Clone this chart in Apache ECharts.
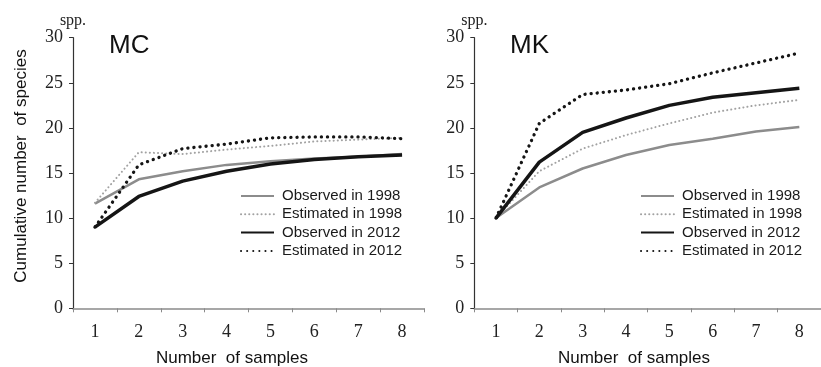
<!DOCTYPE html>
<html>
  <head>
    <meta charset="utf-8" />
    <title>Species accumulation MC / MK</title>
    <script src="https://cdn.jsdelivr.net/npm/echarts@6/dist/echarts.min.js"></script>
  </head>
  <body style="margin:0">
    <div id="container" style="width: 821px;height: 367px;"></div>

    <script type="text/javascript">
    // sample numbers on the x axis
    var samples = ['1', '2', '3', '4', '5', '6', '7', '8'];
    var seriesNames = ['Observed in 1998', 'Estimated in 1998', 'Observed in 2012', 'Estimated in 2012'];

    // MC panel
    var mcObs1998 = [11.6, 14.3, 15.2, 15.9, 16.3, 16.6, 16.8, 17.1];
    var mcEst1998 = [11.7, 17.3, 17.1, 17.6, 18.0, 18.5, 18.7, 18.9];
    var mcObs2012 = [9.0, 12.4, 14.1, 15.2, 16.0, 16.5, 16.8, 17.0];
    var mcEst2012 = [9.0, 15.9, 17.7, 18.2, 18.9, 19.0, 19.0, 18.8];

    // MK panel
    var mkObs1998 = [10.0, 13.4, 15.5, 17.0, 18.1, 18.8, 19.6, 20.1];
    var mkEst1998 = [10.0, 15.2, 17.7, 19.2, 20.5, 21.7, 22.5, 23.1];
    var mkObs2012 = [10.0, 16.2, 19.5, 21.1, 22.5, 23.4, 23.9, 24.4];
    var mkEst2012 = [10.0, 20.5, 23.7, 24.2, 24.9, 26.1, 27.2, 28.3];

    var yTicks = { min: 0, max: 30, interval: 5 };

    // line looks, same order as seriesNames
    var styles = [
        { color: '#8c8c8c', width: 2.5, type: 'solid', cap: 'butt' },
        { color: '#a2a2a2', width: 2, type: [0.1, 4], cap: 'round' },
        { color: '#151515', width: 3.5, type: 'solid', cap: 'butt' },
        { color: '#151515', width: 3.3, type: [0.1, 6], cap: 'round' }
    ];

    var serif = '"Liberation Serif", "Times New Roman", serif';
    var sans = '"Liberation Sans", Arial, sans-serif';

    function makeSeries(values, idx) {
        var out = [];
        for (var i = 0; i < values.length; i++) {
            out.push({
                name: seriesNames[i],
                type: 'line',
                xAxisIndex: idx,
                yAxisIndex: idx,
                symbol: 'none',
                data: values[i],
                lineStyle: {
                    color: styles[i].color,
                    width: styles[i].width,
                    type: styles[i].type,
                    cap: styles[i].cap
                },
                itemStyle: { color: styles[i].color }
            });
        }
        return out;
    }

    function makeX(idx) {
        return {
            type: 'category',
            gridIndex: idx,
            data: samples,
            boundaryGap: true,
            axisLine: { lineStyle: { color: '#8a8a8a', width: 1.5 } },
            axisTick: { show: true, length: 4, interval: 0, lineStyle: { color: '#8a8a8a' } },
            axisLabel: { margin: 15, color: '#222', fontSize: 18, fontFamily: serif }
        };
    }

    function makeY(idx) {
        return {
            type: 'value',
            gridIndex: idx,
            min: yTicks.min,
            max: yTicks.max,
            interval: yTicks.interval,
            name: 'spp.',
            nameLocation: 'end',
            nameGap: 5,
            nameTextStyle: { color: '#222', fontSize: 16, fontFamily: serif },
            splitLine: { show: false },
            axisLine: { show: true, lineStyle: { color: '#333', width: 1.2 } },
            axisTick: { show: true, length: 4, lineStyle: { color: '#333' } },
            axisLabel: { margin: 10, color: '#222', fontSize: 18, fontFamily: serif }
        };
    }

    function makeLegend(left) {
        return {
            data: seriesNames,
            orient: 'vertical',
            left: left,
            top: 188.5,
            padding: 0,
            itemWidth: 33,
            itemHeight: 14,
            itemGap: 3.3,
            selectedMode: false,
            itemStyle: { opacity: 0 },
            textStyle: { color: '#1a1a1a', fontSize: 15, fontFamily: sans, padding: [0, 0, 0, 3] }
        };
    }

    var myChart = echarts.init(document.getElementById('container'));
    var option = {
        animation: false,
        backgroundColor: '#fff',
        grid: [
            { left: 73, top: 37.7, width: 351, height: 270.6 },
            { left: 474.3, top: 37.7, width: 354, height: 270.6 }
        ],
        xAxis: [makeX(0), makeX(1)],
        yAxis: [makeY(0), makeY(1)],
        legend: [makeLegend(240), makeLegend(640)],
        graphic: [
            { type: 'text', left: 109, top: 33, style: { text: 'MC', fontSize: 26, fontFamily: sans, fill: '#111' } },
            { type: 'text', left: 510, top: 33, style: { text: 'MK', fontSize: 26, fontFamily: sans, fill: '#111' } },
            { type: 'text', x: 21, y: 166, rotation: Math.PI / 2,
              style: { text: 'Cumulative number  of species', fontSize: 17, fontFamily: sans, fill: '#111',
                       align: 'center', verticalAlign: 'middle' } },
            { type: 'text', x: 232, y: 358,
              style: { text: 'Number  of samples', fontSize: 17, fontFamily: sans, fill: '#111',
                       align: 'center', verticalAlign: 'middle' } },
            { type: 'text', x: 634, y: 358,
              style: { text: 'Number  of samples', fontSize: 17, fontFamily: sans, fill: '#111',
                       align: 'center', verticalAlign: 'middle' } }
        ],
        series: makeSeries([mcObs1998, mcEst1998, mcObs2012, mcEst2012], 0)
            .concat(makeSeries([mkObs1998, mkEst1998, mkObs2012, mkEst2012], 1))
    };
    myChart.setOption(option);

    window.addEventListener('resize', myChart.resize);
    </script>
  </body>
</html>
